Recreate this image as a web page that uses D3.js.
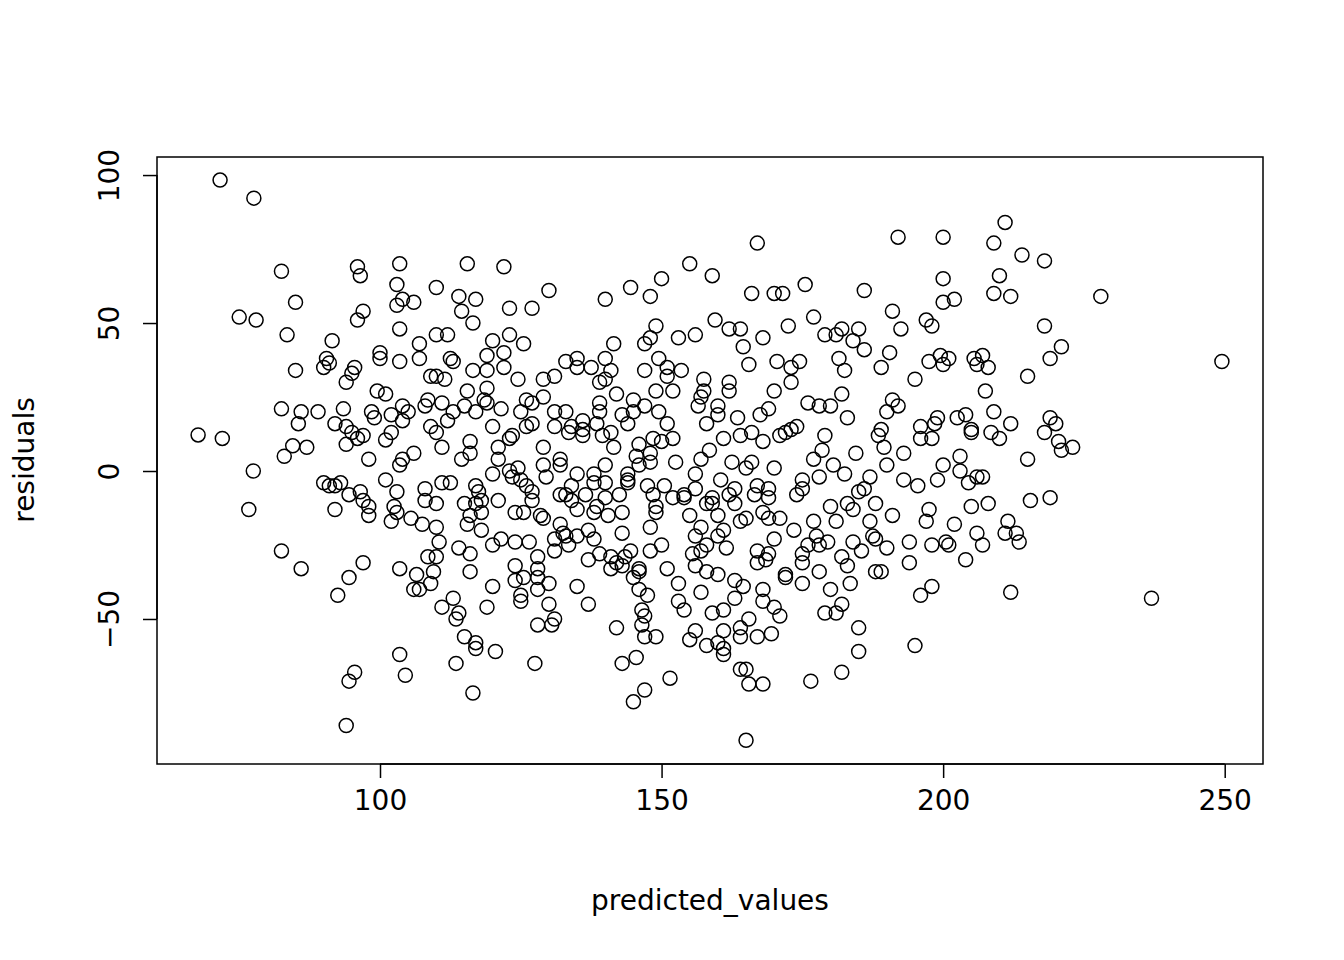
<!DOCTYPE html>
<html><head><meta charset="utf-8">
<script src="https://cdn.jsdelivr.net/npm/d3@7"></script>
<style>body{margin:0;background:#fff}</style></head>
<body><svg id="c" width="1344" height="960"></svg>
<script>
const xTicks=[100,150,200,250];
const yTicks=[-50,0,50,100];
const xLabel="predicted_values";
const yLabel="residuals";
const raw=`71.6,98.3 77.6,92.2 67.7,12.2 72,11 75,52 78,51 77.5,0 76.7,-13 82.5,67.5 83.5,46 85,57 82.5,21 83,5 82.5,-27 85,34 86,-33 86,20 85.5,16 87,8 84.5,8.5 89,20 91.5,44
90.5,38 90,35 91,36.5 90,-4 91,-5 92,-5 93,-4 92,-13 92.5,-42 92,16 93.5,21 94,9 94,15 94,30 95,33 95.5,35 96,69 96.5,66 96,51 97,54 95,13 96,11 97,12 97,-10 98,-12 98,-15 94.5,-36 94.5,-71 95.5,-68 94,-86 96.5,-7 98,4 97,-31 94.5,-8
98.5,20 99,18 100,38 100,40 99.5,27 101,-3 101,10.5 101,26 102,-17 102,19 102.5,-12 102,13 103,-14 103,63 103,56 103.5,70 104,58 103.5,48 103.5,37 104,22 104,17 103.5,2 104,4 103.5,-33 103.5,-62 104.5,-69 103,-7 105,20 105.5,-16 106,57 106,6 107,43 107,38 106.5,-35 106,-40 107,-40 108,-6 108,-10 107.5,-18 108.5,-29 108,22 109,32 108.5,24 109,15 109.5,-34 110,62 110,46 110,32 110,13 110,-11 110,-19 110,-29 109,-38 110.5,-24 111,-46 111,8 111,-4 111.5,31 111,23 112,17 112,46 112.5,38 113,37 113,20 113,-43 112.5,-4 113.5,-50 113.5,-65 114,59 114.5,54 114,-48 114,-26 114.5,4 115,-11 115,22 115.5,70 115.5,27 115,-56 115.5,-18 116,-15 116,-34 116,-28 116,10 116,6 116.5,50 116.5,34 117,58 117,20 117,-5 117,-11 117,-58 117,-60 116.5,-75 117.5,-7 118,-14 118,-10 118,-20 118.5,24 119,23 119,28 119,34 119,39 119,-46 120,-1 120,-25 120,-39 120,15 120,44 120.5,-61 121,8 121,-10 121,4 121.5,-23 121.5,21 122,35 122,40 122,69 123,46 123,55 123,11 123.5,12 123,0 123.5,-2 124,-14 124,-24 124,-32 124,-37 124.5,1 124.5,31 125,-42 125,-44 125,-3 125,20 125.5,-14 125.5,-36 125.5,43 126,24 126,15 126,-5 126.5,-24 127,55 127,23 127,16 127,-7 127,-10 127.5,-65 128,-52 128,-29 128,-33 128,-36 128,-40 128.5,-15 129,2 129,8 129,-16 129,31 129,25 129.5,-2 130,61 130,-45 130,-38 130.5,-52 131,-50 131,20 131,32 131,15 131,-23 131,-27 132,-8 132,4 132,2 132,-18 132.5,-21 133,37 133,20 133,-8 133,-22 133.5,13 133.5,-25 134,-5 134,-10 134,15 135,38 135,35 135,-13 135,-22 135,-39 135,-1 136,12 136,17 136,14 136.5,-8 137,-20 137,-30 137,-45 137.5,35 138,-23 138,-14 138,-1 138,-4 138.5,16 138.5,-12 139,30 139,23 139,20 139,-28 139.5,12 140,38 140,31 140,-4 140,2 140,-9 140,58 140.5,-15 141,-29 141,-33 141,34 141,13 141.5,43 141.5,8 142,-53 142,26 142,-31 142.5,-8 143,-14 143,-21 143,-32 143,-65 143,19 143.5,-29 144,-1 144,-3 144,-4 144,16 144.5,62 144.5,-27 145,-78 145,24 145,-36 145,20 145.5,5 145.5,-63 146,-34 146,2 146,-33 146,9 146,-40 146.5,-47 146.5,-52 147,-49 147,-56 147,22 147,43 147,34 147,-74 147.5,-5 147.5,-42 148,45 148,59 148,-19 148,-27 148,3 148,6 148.5,-8 148.5,11 149,49 149,27 149,-12 149,-14 149,-56 149.5,20 149.5,38 150,65 150,-25 150,10 150.5,-5 151,35 151,32 151,16 151,-33 151.5,-70 152,-9 152,11 152,27 152.5,3 153,45 153,-38 153,-44 153.5,34 154,-8 154,-47 154,-9 155,70 155,-15 155,-57 155.5,-28 156,-1 156,-6 156,-22 156,46 156,-32 156,-54 156.5,22 157,-19 157,4 157,-27 157,-41 157,25 157.5,31 157.5,27 158,-59 158,16 158,-11 158,-25 158,-34 158.5,7 159,-9 159,-48 159,-11 159,66 159.5,51 160,22 160,19 160,-15 160,-22 160,-58 160,-35 160.5,-3 161,-47 161,-54 161,-60 161,-62 161,11 161,-20 161.5,-26 162,48 162,30 162,27 162,-8 162.5,3 163,-6 163,-37 163,-43 163,-11 163.5,18 164,-67 164,-53 164,-56 164,-17 164,48 164,12 164.5,-39 164.5,42 165,-91 165,-67 165,-16 165,1 165.5,-50 165.5,-72 165.5,36 166,60 166,13 166,3 166.5,-8 167,77 167,-27 167,-5 167,-31 167,-56 167.5,19 168,-40 168,-44 168,-72 168,-14 168,10 168,45 168.5,-30 169,-28 169,-6 169,-16 169,21 169,-9 169.5,-55 170,60 170,-23 170,-46 170,1 170,27 170.5,37 171,-49 171,-16 171,12 171.5,60 172,-35 172,-36 172,13 172.5,49 173,35 173,30 173,14 173.5,-20 174,-8 174,15 174.5,37 175,-3 175,-31 175,-38 175,-28 175,-6 175.5,63 176,-25 176,23 176.5,-71 177,4 177,52 177,-17 177.5,-22 178,-25 178,-34 178,22 178,-2 178.5,7 179,-48 179,46 179,12 179.5,-24 180,22 180,-40 180,-12 180.5,2 181,46 181,-48 181,-17 181.5,38 182,48 182,-68 182,-45 182,-29 182,26 182.5,34 182.5,-1 183,-32 183,18 183,-11 183.5,-38 184,-13 184,-24 184,44 184.5,6 185,48 185,-53 185,-61 185,-7 185.5,-27 186,61 186,41 186,-6 187,-17 187,-2 187.5,-22 188,-23 188,-34 188,-11 188.5,12 189,-34 189,35 189,14 189.5,8 190,-26 190,2 190,20 190.5,40 191,54 191,24 191,-15 192,79 192,22 192.5,48 193,6 193,-3 194,-31 194,-24 195,31 195,-59 195.5,-5 196,15 196,11 196,-42 197,51 197,-17 197.5,-13 197.5,37 198,-39 198,49 198,11 198,-25 198.5,16 199,18 199,-3 199.5,39 200,79 200,65 200,57 200,36 200,2 200.5,-24 201,38 201,-25 202,58 202,-18 202.5,18 203,5 203,0 204,-30 204,19 204.5,-4 205,14 205,13 205,-12 205.5,38 206,36 206,-21 206,-2 207,39 207,-25 207,-2 207.5,27 208,35 208,-11 208.5,13 209,77 209,60 209,20 210,66 210,11 211,84 211,-21 211.5,-17 212,59 212,-41 212,16 213,-21 213.5,-24 214,73 215,4 215,32 215.5,-10 218,71 218,49 218,13 219,-9 219,38 219,18 220,16 220.5,10 221,42 221,7 223,8 228,59 237,-43 249.5,37`;
const pairs=raw.trim().split(/\s+/).map(s=>s.split(",").map(Number));
const predicted=pairs.map(p=>p[0]);
const residuals=pairs.map(p=>p[1]);

const L=157,R=1263,T=157,B=764;
const svg=d3.select("#c");
const x=d3.scaleLinear().domain([60.4,256.8]).range([L,R]);
const y=d3.scaleLinear().domain([-99.0,106.1]).range([B,T]);
const font="DejaVu Sans, Liberation Sans, sans-serif";

svg.append("g").selectAll("circle").data(predicted).join("circle")
 .attr("cx",(d,i)=>x(d)).attr("cy",(d,i)=>y(residuals[i])).attr("r",7)
 .attr("fill","none").attr("stroke","#000").attr("stroke-width",1.5);

svg.append("rect").attr("x",L).attr("y",T).attr("width",R-L).attr("height",B-T)
 .attr("fill","none").attr("stroke","#000").attr("stroke-width",1.5);

const xa=svg.append("g").attr("transform",`translate(0,${B})`)
 .call(d3.axisBottom(x).tickValues(xTicks).tickSize(14).tickPadding(12));
const ya=svg.append("g").attr("transform",`translate(${L},0)`)
 .call(d3.axisLeft(y).tickValues(yTicks).tickSize(14).tickPadding(10));
xa.select(".domain").remove(); ya.select(".domain").remove();
xa.append("line").attr("x1",x(xTicks[0])).attr("x2",x(xTicks[xTicks.length-1]));
ya.append("line").attr("y1",y(yTicks[0])).attr("y2",y(yTicks[yTicks.length-1]));
[xa,ya].forEach(a=>{a.selectAll("line").attr("stroke","#000").attr("stroke-width",1.5);
 a.selectAll("text").attr("font-family",font).attr("font-size",28).attr("fill","#000");});
ya.selectAll(".tick text").attr("x",null).attr("y",null).attr("text-anchor","middle")
  .attr("transform","translate(-48,0) rotate(-90)").attr("dy","0.35em");
svg.append("text").attr("x",(L+R)/2).attr("y",910).attr("text-anchor","middle")
 .attr("font-family",font).attr("font-size",28).text(xLabel);
svg.append("text").attr("transform","translate(34,460) rotate(-90)").attr("text-anchor","middle")
 .attr("font-family",font).attr("font-size",28).text(yLabel);
</script></body></html>
